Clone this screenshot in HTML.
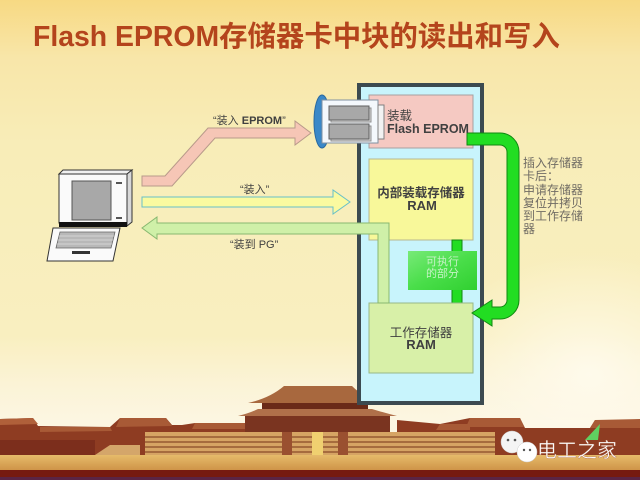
<!DOCTYPE html>
<html><head><meta charset="utf-8">
<style>
html,body{margin:0;padding:0;width:640px;height:480px;overflow:hidden;background:#f8eeb8;}
svg{display:block;}
text{font-family:"Liberation Sans","Noto Sans CJK SC",sans-serif;}
</style></head>
<body>
<svg width="640" height="480" viewBox="0 0 640 480" xmlns="http://www.w3.org/2000/svg">
<defs>
<linearGradient id="bg" x1="0" y1="0" x2="0" y2="1">
<stop offset="0" stop-color="#f7d983"/>
<stop offset="0.12" stop-color="#f8e6a9"/>
<stop offset="0.3" stop-color="#f8edb8"/>
<stop offset="0.7" stop-color="#f9efc0"/>
<stop offset="0.8" stop-color="#fbf3d6"/>
<stop offset="0.88" stop-color="#fcf6e2"/>
</linearGradient>
<radialGradient id="glow" cx="0.92" cy="0.78" r="0.25">
<stop offset="0" stop-color="#fffbee" stop-opacity="0.9"/>
<stop offset="1" stop-color="#fffbee" stop-opacity="0"/>
</radialGradient>
<linearGradient id="exec" x1="0" y1="0" x2="1" y2="1">
<stop offset="0" stop-color="#78ea78"/>
<stop offset="0.5" stop-color="#4ade4a"/>
<stop offset="1" stop-color="#30d030"/>
</linearGradient>
<linearGradient id="ground" x1="0" y1="0" x2="0" y2="1">
<stop offset="0" stop-color="#e6bb6a"/>
<stop offset="1" stop-color="#cf9448"/>
</linearGradient>
</defs>

<!-- background -->
<rect x="0" y="0" width="640" height="480" fill="url(#bg)"/>
<rect x="0" y="0" width="640" height="480" fill="url(#glow)"/>

<!-- title -->
<text x="33" y="46" font-size="28.4" font-weight="bold" fill="#b4441c">Flash EPROM存储器卡中块的读出和写入</text>

<!-- palace -->
<g>
<!-- left buildings -->
<path d="M0,419 L33,418 L38,426 L110,427 L120,418 L166,418 L172,425 L182,425 L195,423 L245,423 L245,455 L0,455 Z" fill="#8e3c22"/>
<path d="M0,419 L33,418 L38,424 L0,425 Z" fill="#b0603a"/>
<path d="M40,427 L110,427 L112,431 L40,432 Z" fill="#a85a36"/>
<path d="M120,418 L166,418 L172,426 L116,427 Z" fill="#a85a36"/>
<path d="M195,423 L245,423 L245,429 L192,429 Z" fill="#a85a36"/>
<rect x="0" y="440" width="95" height="15" fill="#7c2e1c"/>
<path d="M95,455 L110,445 L140,445 L140,455 Z" fill="#d4a66a"/>
<!-- right buildings -->
<path d="M397,420 L440,424 L470,418 L520,418 L525,428 L590,428 L595,420 L640,420 L640,455 L397,455 Z" fill="#8e3c22"/>
<path d="M470,418 L520,418 L524,427 L466,427 Z" fill="#a85a36"/>
<path d="M440,424 L470,424 L470,430 L436,430 Z" fill="#a85a36"/>
<path d="M595,420 L640,419 L640,428 L590,428 Z" fill="#a85a36"/>
<!-- terraces -->
<rect x="145" y="432" width="350" height="24" fill="#d6a464"/>
<g stroke="#8a4a28" stroke-width="1.2">
<line x1="145" y1="437" x2="495" y2="437"/>
<line x1="145" y1="442" x2="495" y2="442"/>
<line x1="145" y1="447" x2="495" y2="447"/>
<line x1="145" y1="452" x2="495" y2="452"/>
</g>
<rect x="282" y="432" width="10" height="24" fill="#9a5030"/>
<rect x="338" y="432" width="10" height="24" fill="#9a5030"/>
<rect x="312" y="432" width="11" height="24" fill="#f0d070"/>
<!-- main hall -->
<path d="M248,403 Q270,398 284,386 L352,386 Q364,398 382,403 Z" fill="#a8683e"/>
<rect x="262" y="403" width="106" height="6" fill="#6a2a18"/>
<path d="M238,416 Q250,413 258,409 L372,409 Q385,413 397,416 Z" fill="#b0704a"/>
<rect x="245" y="416" width="145" height="16" fill="#7a3420"/>
<!-- ground -->
<rect x="0" y="455" width="640" height="15" fill="url(#ground)"/>
<rect x="0" y="470" width="640" height="8" fill="#761a10"/>
<rect x="0" y="477" width="640" height="3" fill="#5a2444"/>
</g>

<!-- cabinet -->
<rect x="359" y="85" width="123" height="318" fill="#c8f4fc" stroke="#3c4a50" stroke-width="4"/>

<!-- inner boxes -->
<rect x="369" y="95" width="104" height="53" fill="#f5c9c2" stroke="#a8a0a0" stroke-width="1"/>
<rect x="369" y="159" width="104" height="81" fill="#f8f89a" stroke="#b8b890" stroke-width="1"/>

<!-- small vertical green arrow -->
<path d="M452,240 L462,240 L462,306 L467,306 L457,319 L447,306 L452,306 Z" fill="#22dd22" stroke="#118811" stroke-width="1"/>
<!-- exec box -->
<rect x="408" y="251" width="69" height="39" fill="url(#exec)"/>
<text x="442.5" y="265" font-size="11" fill="#c4f2c4" text-anchor="middle">可执行</text>
<text x="442.5" y="277" font-size="11" fill="#c4f2c4" text-anchor="middle">的部分</text>

<!-- work RAM -->
<rect x="369" y="303" width="104" height="70" fill="#d8f0a8" stroke="#98b888" stroke-width="1"/>

<!-- arrows -->
<path d="M142,176 L165,176 L208,128 L295,128 L295,121 L311,133 L295,145 L295,138 L215,138 L172,186 L142,186 Z" fill="#f6c6b6" stroke="#b89a8a" stroke-width="1"/>
<path d="M142,197 L333,197 L333,190 L350,202 L333,214 L333,207 L142,207 Z" fill="#fafaa0" stroke="#68c0c8" stroke-width="1"/>
<path d="M389,303 L389,223 L157,223 L157,217 L142,228 L157,239 L157,234 L378,234 L378,303 Z" fill="#cff0a8" stroke="#88b870" stroke-width="1"/>

<!-- big green arrow -->
<path d="M467,133 L500,133 A19,19 0 0 1 519,152 L519,300 A19,19 0 0 1 500,319 L492,319 L492,326 L472,313 L492,300 L492,307 L500,307 A7,7 0 0 0 507,300 L507,152 A7,7 0 0 0 500,145 L467,145 Z" fill="#22dd22" stroke="#118811" stroke-width="1"/>

<!-- box texts -->
<text x="387" y="120" font-size="12.5" fill="#404040">装载</text>
<text x="387" y="133" font-size="12.5" font-weight="bold" fill="#404040">Flash EPROM</text>
<text x="421" y="197" font-size="12.5" font-weight="bold" fill="#404040" text-anchor="middle">内部装载存储器</text>
<text x="422" y="210" font-size="13" font-weight="bold" fill="#404040" text-anchor="middle">RAM</text>
<text x="421" y="337" font-size="12.5" fill="#404040" text-anchor="middle">工作存储器</text>
<text x="421" y="349" font-size="13" font-weight="bold" fill="#404040" text-anchor="middle">RAM</text>

<!-- cartridge -->
<ellipse cx="322" cy="121.5" rx="8" ry="26.5" fill="#3a88c8" stroke="#2a6aa0" stroke-width="1"/>
<rect x="322" y="100" width="56" height="43" fill="#f4f8fc" stroke="#8090a0" stroke-width="1"/>
<rect x="331" y="108" width="40" height="14" fill="#d8d8d8" stroke="#909090" stroke-width="1"/>
<rect x="329" y="106" width="40" height="14" fill="#a8a8a8" stroke="#606060" stroke-width="1"/>
<rect x="331" y="126" width="40" height="15" fill="#d8d8d8" stroke="#909090" stroke-width="1"/>
<rect x="329" y="124" width="40" height="15" fill="#a8a8a8" stroke="#606060" stroke-width="1"/>
<rect x="378" y="105" width="6" height="34" fill="#f2f2f2" stroke="#808080" stroke-width="1"/>

<!-- laptop -->
<polygon points="59,174 63,170 132,170 127,174" fill="#f0f0f0" stroke="#333" stroke-width="1"/>
<polygon points="127,174 132,170 132,222 127,226" fill="#d8d8d8" stroke="#333" stroke-width="1"/>
<rect x="59" y="174" width="68" height="49" fill="#fafafa" stroke="#333" stroke-width="1"/>
<rect x="72" y="181" width="39" height="39" fill="#a8a8a8" stroke="#555" stroke-width="1"/>
<rect x="116" y="182" width="6" height="2" fill="#555"/>
<rect x="116" y="217" width="6" height="2" fill="#555"/>
<rect x="59" y="222" width="68" height="5" fill="#111"/>
<polygon points="53,228 120,228 113,261 47,261" fill="#fafafa" stroke="#333" stroke-width="1"/>
<polygon points="60,232 115,232 111,248 56,248" fill="#b8b8b8" stroke="#666" stroke-width="0.8"/>
<g stroke="#eee" stroke-width="0.6">
<line x1="59" y1="236" x2="114" y2="236"/>
<line x1="58" y1="240" x2="113" y2="240"/>
<line x1="57" y1="244" x2="112" y2="244"/>
</g>
<rect x="72" y="251" width="18" height="3" fill="#333"/>

<!-- arrow labels -->
<text x="213" y="124" font-size="11" fill="#404040">“装入 <tspan font-weight="bold">EPROM</tspan>”</text>
<text x="240" y="193" font-size="11" fill="#404040">“装入”</text>
<text x="230" y="248" font-size="11" fill="#404040">“装到 PG”</text>

<!-- right notes -->
<g font-size="12" fill="#706c64">
<text x="523" y="167">插入存储器</text>
<text x="523" y="180">卡后：</text>
<text x="523" y="194">申请存储器</text>
<text x="523" y="207">复位并拷贝</text>
<text x="523" y="220">到工作存储</text>
<text x="523" y="233">器</text>
</g>

<!-- watermark -->
<circle cx="512" cy="442" r="11" fill="#f4f4f4" stroke="#ccc" stroke-width="0.5"/>
<circle cx="527" cy="452" r="10" fill="#ffffff" stroke="#ccc" stroke-width="0.5"/>
<circle cx="508" cy="440" r="1.3" fill="#555"/>
<circle cx="515" cy="440" r="1.3" fill="#555"/>
<circle cx="524" cy="450" r="1.2" fill="#555"/>
<circle cx="530" cy="450" r="1.2" fill="#555"/>
<polygon points="600,424 598,440 585,440" fill="#60d060"/>
<text x="537" y="457" font-size="20" fill="#fafafa" stroke="#a05030" stroke-width="0.3">电工之家</text>
</svg>
</body></html>
